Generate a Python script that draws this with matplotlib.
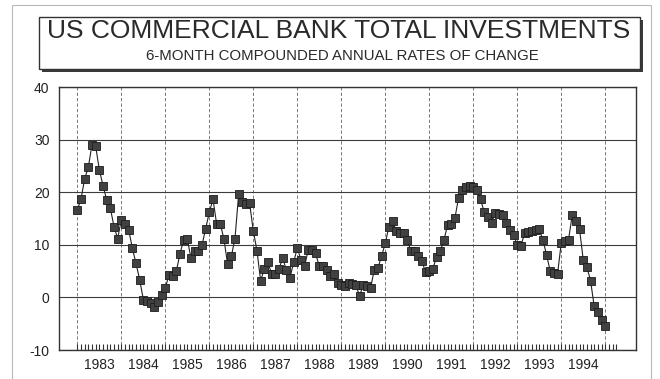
import numpy as np
import matplotlib
matplotlib.use("Agg")
import matplotlib.pyplot as plt
from matplotlib.patches import Rectangle

plt.rcParams['font.family'] = ['Liberation Sans', 'DejaVu Sans']

# monthly 6-month compounded annual rates of change, Jan 1983 .. Jan 1995
start_year = 1983
investment_growth = [
    16.7, 18.7, 22.6, 24.8, 29.1, 28.8, 24.3, 21.3, 18.6, 17.0, 13.5, 11.2,   # 1983
    14.8, 14.0, 12.9, 9.4, 6.5, 3.4, -0.4, -0.6, -1.1, -1.8, -0.8, 0.5,       # 1984
    1.8, 4.3, 4.1, 5.0, 8.3, 11.0, 11.1, 7.5, 8.8, 8.9, 9.9, 13.1,            # 1985
    16.2, 18.7, 14.0, 14.0, 11.1, 6.3, 7.8, 11.2, 19.6, 18.2, 17.7, 17.9,     # 1986
    12.7, 8.9, 3.2, 5.4, 6.7, 4.5, 4.5, 5.4, 7.5, 5.3, 3.7, 6.7,              # 1987
    9.4, 7.2, 6.0, 9.1, 9.1, 8.4, 5.9, 5.9, 5.3, 4.1, 4.5, 2.7,               # 1988
    2.3, 2.1, 2.8, 2.6, 2.3, 0.3, 2.4, 2.1, 1.8, 5.3, 5.6, 7.9,               # 1989
    10.3, 13.5, 14.5, 12.6, 12.3, 12.3, 11.0, 8.8, 8.8, 7.8, 6.9, 4.8,        # 1990
    5.0, 5.5, 7.7, 8.8, 10.9, 13.8, 14.0, 15.1, 19.0, 20.5, 21.1, 21.3,       # 1991
    21.0, 20.5, 18.7, 16.2, 15.4, 14.2, 16.1, 15.9, 15.7, 14.2, 12.9, 11.9,   # 1992
    10.0, 9.7, 12.3, 12.5, 12.7, 12.9, 13.0, 11.0, 8.1, 5.0, 4.6, 4.5,        # 1993
    10.3, 10.7, 11.0, 15.7, 14.5, 13.0, 7.2, 5.8, 3.2, -1.7, -2.7, -4.3,      # 1994
    -5.5,                                                                     # 1995
]
year_labels = ['1983', '1984', '1985', '1986', '1987', '1988',
               '1989', '1990', '1991', '1992', '1993', '1994']
y_values = [-10, 0, 10, 20, 30, 40]

W, H = 660, 379
fig = plt.figure(figsize=(W / 100, H / 100), dpi=100)


def px_box(x0, y0, x1, y1):
    # pixel box measured from the top-left corner -> figure fraction
    return x0 / W, 1 - y1 / H, (x1 - x0) / W, (y1 - y0) / H


# faint page frame
fx, fy, fw, fh = px_box(12, 5, 651, 390)
fig.patches.append(Rectangle((fx, fy), fw, fh, transform=fig.transFigure,
                             fill=False, edgecolor='#b8b8b8', lw=0.8))

# title box with drop shadow
sx, sy, sw, sh = px_box(42, 20, 643, 72)
fig.patches.append(Rectangle((sx, sy), sw, sh, transform=fig.transFigure,
                             facecolor='#3a3a3a', edgecolor='none'))
bx, by, bw, bh = px_box(39, 17, 640, 69)
fig.patches.append(Rectangle((bx, by), bw, bh, transform=fig.transFigure,
                             facecolor='white', edgecolor='#333333', lw=1.0))
fig.text(338.5 / W, 1 - 31 / H, 'US COMMERCIAL BANK TOTAL INVESTMENTS',
         ha='center', va='center', fontsize=19.0, color='#2a2a2a')
fig.text(342 / W, 1 - 56 / H, '6-MONTH COMPOUNDED ANNUAL RATES OF CHANGE',
         ha='center', va='center', fontsize=10.8, color='#2a2a2a')

ax = fig.add_axes(px_box(59.3, 87.3, 636, 350))
x = start_year + np.arange(len(investment_growth)) / 12.0

ax.plot(x, investment_growth, color='#222222', lw=0.8, marker='s',
        markersize=6.4, markerfacecolor='#414141', markeredgecolor='#1c1c1c',
        markeredgewidth=0.6, zorder=3)

ax.set_xlim(1982.59, 1995.70)
ax.set_ylim(-10, 40)

# year boundaries as dashed verticals, levels as solid horizontals
for yr in range(start_year, start_year + len(year_labels) + 1):
    ax.axvline(yr, color='#666666', lw=0.6, ls=(0, (4, 2.5)), zorder=1)
ax.set_yticks(y_values)
ax.set_yticklabels([str(v) for v in y_values])
ax.yaxis.grid(True, color='#3c3c3c', lw=0.8, zorder=1)
ax.tick_params(axis='y', length=0, pad=7, labelsize=10, labelcolor='#222222')

# year labels centred in each year, monthly ticks along the bottom
ax.set_xticks([start_year + i + 0.5 for i in range(len(year_labels))])
ax.set_xticklabels(year_labels)
ax.set_xticks(start_year + np.arange(0, 148) / 12.0, minor=True)
ax.tick_params(axis='x', which='both', direction='in', length=4.5, width=0.8,
               color='#333333', top=False)
ax.tick_params(axis='x', which='major', pad=6, labelsize=10,
               labelcolor='#222222')

for sp in ax.spines.values():
    sp.set_color('#333333')
    sp.set_linewidth(1.0)

fig.savefig('out.png', dpi=100)
